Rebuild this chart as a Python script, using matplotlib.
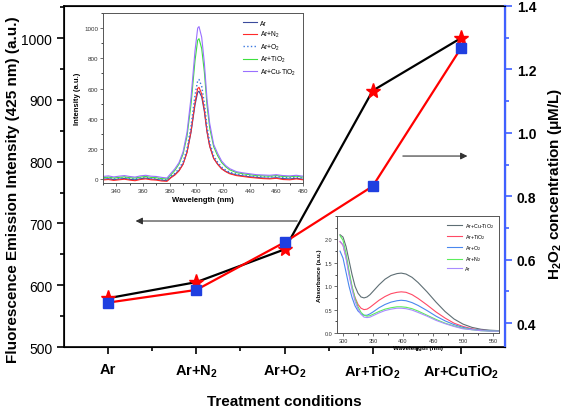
import matplotlib
matplotlib.use("Agg")
import matplotlib.pyplot as plt
from matplotlib.ticker import MultipleLocator

plt.rcParams['font.family'] = ['Liberation Sans', 'DejaVu Sans']
plt.rcParams['mathtext.fontset'] = 'custom'
plt.rcParams['mathtext.rm'] = 'Liberation Sans'
plt.rcParams['mathtext.bf'] = 'Liberation Sans:bold'

# main chart data
conditions = ['Ar', r'Ar+N$_\mathbf{2}$', r'Ar+O$_\mathbf{2}$', r'Ar+TiO$_\mathbf{2}$', r'Ar+CuTiO$_\mathbf{2}$']
fluorescence = [579, 605, 658, 915, 1000]
h2o2 = [0.465, 0.505, 0.655, 0.832, 1.267]

# inset 1: fluorescence spectra
wl = [330, 334, 338, 342, 346, 350, 354, 358, 362, 366, 370, 374, 378,
      381, 384, 387, 390, 393, 396, 399, 401, 402, 404, 406, 408, 410, 413, 416, 419, 422, 425,
      430, 435, 440, 445, 450, 455, 460, 465, 470, 475, 480]
fl_ar = [0, 3, -3, 1, 5, -1, -4, 3, 7, 1, -1, -7, -9,
         14, 32, 58, 100, 178, 310, 492, 575, 582, 545, 448, 312, 218, 138, 100, 70, 52, 40,
         28, 22, 16, 12, 8, 6, 10, 4, 2, 6, 0]
fl_n2 = [-5, -2, -8, -4, 0, -6, -10, -2, 2, -4, -6, -12, -14,
         10, 28, 55, 98, 178, 318, 508, 600, 608, 565, 462, 318, 220, 138, 98, 68, 50, 36,
         24, 18, 12, 8, 4, 2, 6, -2, -4, 2, -4]
fl_o2 = [5, 8, 2, 6, 10, 5, 2, 8, 12, 6, 4, -2, -4,
         20, 40, 70, 115, 200, 350, 555, 652, 660, 615, 505, 350, 245, 155, 112, 80, 60, 46,
         34, 28, 22, 18, 16, 14, 18, 12, 10, 14, 8]
fl_tio2 = [10, 14, 8, 12, 16, 10, 8, 14, 18, 12, 10, 4, 2,
           30, 60, 100, 165, 285, 495, 785, 920, 930, 865, 710, 490, 340, 215, 155, 110, 82, 62,
           44, 36, 30, 24, 22, 20, 24, 18, 16, 20, 14]
fl_cutio2 = [18, 22, 15, 20, 24, 18, 14, 22, 26, 20, 18, 12, 8,
             40, 70, 110, 180, 310, 540, 850, 1000, 1010, 940, 770, 530, 370, 230, 170, 120, 90, 70,
             50, 42, 36, 30, 28, 26, 30, 24, 22, 26, 20]

# inset 2: absorbance spectra
wa = [295, 300, 305, 310, 315, 320, 325, 330, 335, 340, 345, 350, 360, 370, 380,
      390, 397, 405, 415, 425, 440, 455, 470, 485, 500, 515, 530, 545, 560]
ab_cutio2 = [2.10, 2.05, 1.85, 1.55, 1.25, 1.00, 0.85, 0.77, 0.75, 0.77, 0.82, 0.89, 1.03, 1.15, 1.23,
             1.27, 1.28, 1.26, 1.19, 1.08, 0.88, 0.66, 0.46, 0.30, 0.19, 0.12, 0.08, 0.06, 0.05]
ab_tio2 = [1.95, 1.88, 1.62, 1.28, 0.98, 0.76, 0.61, 0.53, 0.50, 0.51, 0.55, 0.60, 0.70, 0.78, 0.84,
           0.87, 0.88, 0.87, 0.82, 0.74, 0.60, 0.45, 0.32, 0.21, 0.14, 0.09, 0.06, 0.05, 0.04]
ab_o2 = [1.75, 1.60, 1.30, 1.00, 0.76, 0.58, 0.47, 0.41, 0.38, 0.38, 0.41, 0.45, 0.54, 0.61, 0.66,
         0.69, 0.70, 0.69, 0.65, 0.59, 0.48, 0.36, 0.26, 0.18, 0.12, 0.08, 0.06, 0.05, 0.04]
ab_n2 = [2.08, 1.98, 1.70, 1.33, 1.00, 0.74, 0.56, 0.44, 0.38, 0.36, 0.37, 0.40, 0.46, 0.51, 0.54,
         0.56, 0.56, 0.55, 0.52, 0.47, 0.38, 0.29, 0.21, 0.15, 0.10, 0.07, 0.05, 0.04, 0.04]
ab_ar = [1.96, 1.88, 1.60, 1.24, 0.93, 0.68, 0.51, 0.40, 0.34, 0.33, 0.34, 0.37, 0.43, 0.48, 0.51,
         0.53, 0.53, 0.52, 0.49, 0.44, 0.36, 0.27, 0.20, 0.14, 0.09, 0.07, 0.05, 0.04, 0.04]

fig = plt.figure(figsize=(5.67, 4.14), dpi=100)
ax = fig.add_axes([0.1129, 0.1594, 0.7778, 0.8237])
x = list(range(len(conditions)))

ax.plot(x, fluorescence, color='black', lw=1.6, marker='*', ms=11,
        mfc='red', mec='red', zorder=3)
ax.set_xlim(-0.5, 4.5)
ax.set_ylim(500, 1052)
ax.yaxis.set_major_locator(MultipleLocator(100))
ax.yaxis.set_minor_locator(MultipleLocator(50))
ax.set_xticks(x)
ax.set_xticklabels(conditions, fontweight='bold', fontsize=10.5)
ax.set_xticks([i + 0.5 for i in x[:-1]], minor=True)
ax.tick_params(axis='y', labelsize=10, length=5, width=1.2)
ax.tick_params(axis='y', which='minor', length=3, width=1.2)
ax.tick_params(axis='x', length=5, width=1.2, pad=6)
ax.tick_params(axis='x', which='minor', length=3, width=1.2)
for s in ['left', 'bottom', 'top']:
    ax.spines[s].set_linewidth(1.2)
ax.set_ylabel('Fluorescence Emission Intensity (425 nm) (a.u.)',
              fontweight='bold', fontsize=11)
ax.yaxis.set_label_coords(-0.1, 0.465)
ax.set_xlabel('Treatment conditions', fontweight='bold', fontsize=11, labelpad=10)

ax2 = ax.twinx()
ax2.plot(x, h2o2, color='red', lw=1.6, marker='s', ms=7,
         mfc='#1f3fe0', mec='#1f3fe0', zorder=3)
ax2.set_ylim(0.325, 1.4)
ax2.yaxis.set_major_locator(MultipleLocator(0.2))
ax2.yaxis.set_minor_locator(MultipleLocator(0.1))
ax2.spines['right'].set_color('#4060ff')
ax2.spines['right'].set_linewidth(1.6)
ax2.tick_params(axis='y', colors='#4060ff', labelcolor='black', labelsize=10, length=5, width=1.2)
ax2.tick_params(axis='y', which='minor', colors='#4060ff', length=3, width=1.2)
for lab in ax2.get_yticklabels():
    lab.set_fontweight('bold')
ax2.set_ylabel('H$_\\mathbf{2}$O$_\\mathbf{2}$ concentration (μM/L)',
               fontweight='bold', fontsize=11)
ax2.yaxis.set_label_coords(1.093, 0.48)

# arrows pointing to the axes
ax.annotate('', xy=(0.156, 0.3695), xytext=(0.535, 0.3695), xycoords='axes fraction',
            arrowprops=dict(arrowstyle='-|>', color='#333333', lw=0.8, mutation_scale=10))
ax.annotate('', xy=(0.921, 0.56), xytext=(0.762, 0.56), xycoords='axes fraction',
            arrowprops=dict(arrowstyle='-|>', color='#333333', lw=0.8, mutation_scale=10))

# inset 1: fluorescence spectra
ins1 = fig.add_axes([0.1817, 0.5556, 0.3527, 0.4106])
ins1.plot(wl, fl_ar, color='#3a4a9c', lw=0.8, label='Ar')
ins1.plot(wl, fl_n2, color='#ff2a2a', lw=0.8, label='Ar+N$_2$')
ins1.plot(wl, fl_o2, color='#3a78e0', lw=1.0, ls=':', label='Ar+O$_2$')
ins1.plot(wl, fl_tio2, color='#3ee03e', lw=0.8, label='Ar+TiO$_2$')
ins1.plot(wl, fl_cutio2, color='#9a70ff', lw=0.8, label='Ar+Cu-TiO$_2$')
ins1.set_xlim(330, 480)
ins1.set_ylim(-25, 1100)
ins1.xaxis.set_major_locator(MultipleLocator(20))
ins1.xaxis.set_minor_locator(MultipleLocator(10))
ins1.yaxis.set_major_locator(MultipleLocator(200))
ins1.yaxis.set_minor_locator(MultipleLocator(100))
ins1.tick_params(labelsize=4.5, length=2, width=0.5, pad=1.5, colors='#333333')
ins1.tick_params(which='minor', length=1.2, width=0.5)
for s in ins1.spines.values():
    s.set_linewidth(0.7)
    s.set_color('#555555')
ins1.set_xlabel('Wavelength (nm)', fontsize=5.5, fontweight='bold', labelpad=2)
ins1.set_ylabel('Intensity (a.u.)', fontsize=5.5, fontweight='bold', labelpad=2)
ins1.legend(loc='upper right', frameon=False, fontsize=4.8, handlelength=2.2,
            labelspacing=0.35, borderaxespad=0.6, handletextpad=0.4)

# inset 2: absorbance spectra
ins2 = fig.add_axes([0.5944, 0.1932, 0.2857, 0.2826])
ins2.plot(wa, ab_cutio2, color='#5e6e74', lw=0.8, label='Ar+Cu-TiO$_2$')
ins2.plot(wa, ab_tio2, color='#ff4a66', lw=0.8, label='Ar+TiO$_2$')
ins2.plot(wa, ab_o2, color='#4a88ee', lw=0.8, label='Ar+O$_2$')
ins2.plot(wa, ab_n2, color='#5cee5c', lw=0.8, label='Ar+N$_2$')
ins2.plot(wa, ab_ar, color='#a98cff', lw=0.8, label='Ar')
ins2.set_xlim(290, 560)
ins2.set_ylim(0, 2.5)
ins2.xaxis.set_major_locator(MultipleLocator(50))
ins2.xaxis.set_minor_locator(MultipleLocator(25))
ins2.yaxis.set_minor_locator(MultipleLocator(0.25))
ins2.set_yticks([0, 0.5, 1.0, 1.5, 2.0])
ins2.tick_params(labelsize=4, length=2, width=0.5, pad=1.5, colors='#333333')
ins2.tick_params(which='minor', length=1.2, width=0.5)
for s in ins2.spines.values():
    s.set_linewidth(0.7)
    s.set_color('#555555')
ins2.set_xlabel('Wavelength (nm)', fontsize=4.5, fontweight='bold', labelpad=1.5)
ins2.set_ylabel('Absorbance (a.u.)', fontsize=4.5, fontweight='bold', labelpad=2)
ins2.legend(loc='upper right', frameon=False, fontsize=3.8, handlelength=3,
            labelspacing=0.45, borderaxespad=0.5, handletextpad=0.5)

fig.savefig('out.png', dpi=100)
